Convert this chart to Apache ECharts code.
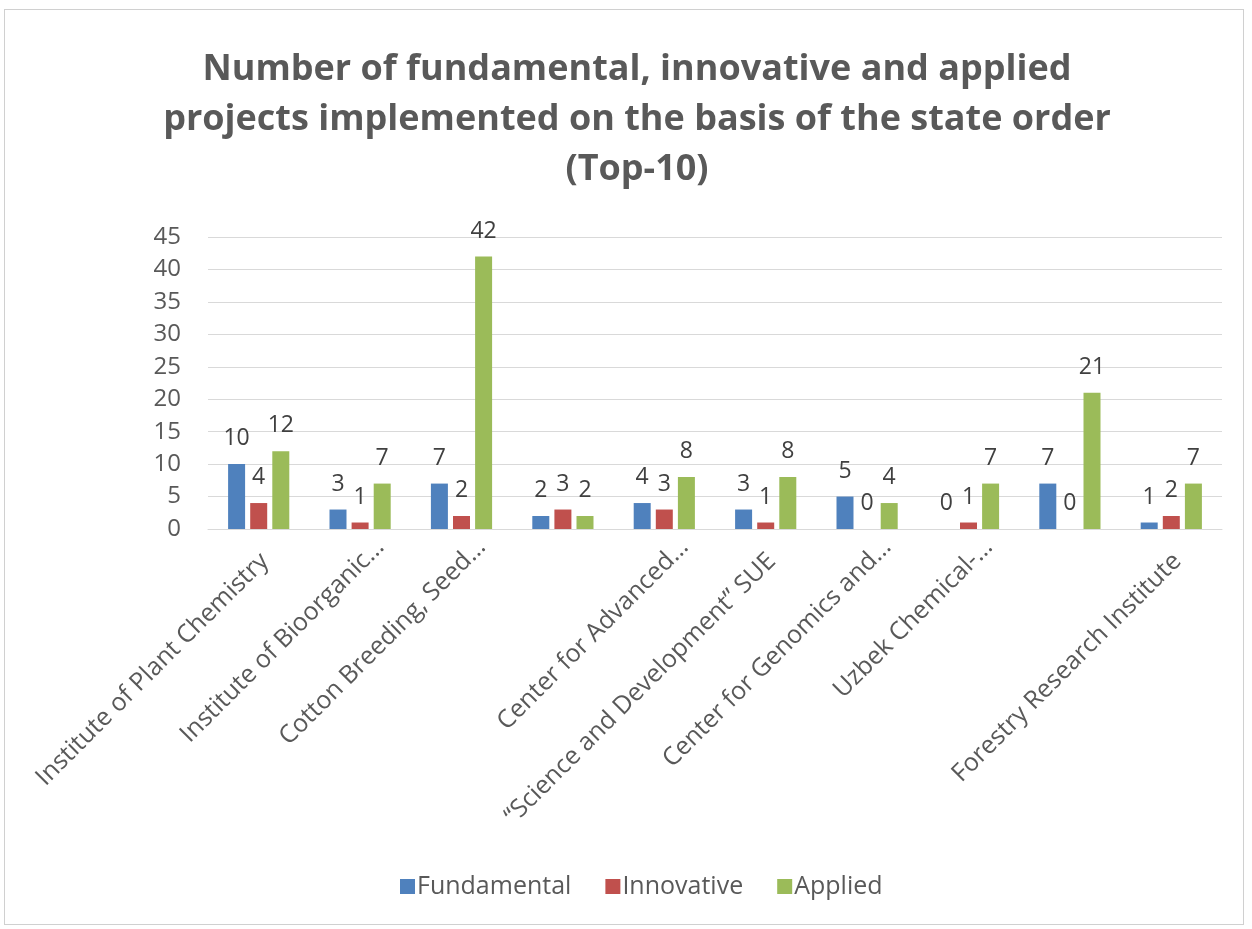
<!DOCTYPE html>
<html>
<head>
<meta charset="utf-8">
<script src="https://cdn.jsdelivr.net/npm/echarts@6/dist/echarts.min.js"></script>
<style>
  html, body { margin: 0; padding: 0; background: #ffffff; }
  #frame { position: absolute; left: 4px; top: 9px; width: 1240px; height: 916px; border: 1px solid #d0d0d0; box-sizing: border-box; }
  #chart { position: absolute; left: 0; top: 0; width: 1252px; height: 929px; }
</style>
</head>
<body>
<div id="frame"></div>
<div id="chart"></div>
<script>
const categories = [
  "Institute of Plant Chemistry",
  "Institute of Bioorganic…",
  "Cotton Breeding, Seed…",
  "",
  "Center for Advanced…",
  "\u201cScience and Development\u201d SUE",
  "Center for Genomics and…",
  "Uzbek Chemical-…",
  "",
  "Forestry Research Institute"
];
const fundamental = [10, 3, 7, 2, 4, 3, 5, 0, 7, 1];
const innovative  = [4, 1, 2, 3, 3, 1, 0, 1, 0, 2];
const applied     = [12, 7, 42, 2, 8, 8, 4, 7, 21, 7];
const seriesNames = ["Fundamental", "Innovative", "Applied"];
const yTicks = { min: 0, max: 45, interval: 5 };

const FONT = "'Open Sans', 'DejaVu Sans', sans-serif";
const chart = echarts.init(document.getElementById('chart'), null, { renderer: 'canvas' });

function barSeries(name, data, color) {
  return {
    name: name,
    type: 'bar',
    data: data,
    barWidth: 17,
    barGap: '30%',
    itemStyle: { color: color },
    label: {
      show: true,
      position: 'top',
      distance: 14,
      color: '#404040',
      fontFamily: FONT,
      fontSize: 23
    }
  };
}

chart.setOption({
  animation: false,
  backgroundColor: 'transparent',
  title: {
    text: "Number of fundamental, innovative and applied\nprojects implemented on the basis of the state order\n(Top-10)",
    left: 632,
    top: 40,
    textAlign: 'center',
    textStyle: {
      fontFamily: FONT,
      fontWeight: 'bold',
      fontSize: 36,
      lineHeight: 50,
      color: '#595959'
    }
  },
  legend: {
    data: seriesNames,
    bottom: 25,
    left: 395,
    itemWidth: 15,
    itemHeight: 15,
    itemGap: 34,
    icon: 'rect',
    textStyle: { fontFamily: FONT, fontSize: 25, color: '#595959', padding: [0, 0, 0, -3] }
  },
  grid: { left: 208, right: 30, top: 237, bottom: 400, containLabel: false },
  xAxis: {
    type: 'category',
    data: categories,
    axisLine: { lineStyle: { color: '#d9d9d9', width: 1 } },
    axisTick: { show: false },
    axisLabel: {
      interval: 0,
      rotate: 45,
      margin: -6,
      padding: [57, 0, 0, 0],
      formatter: function (v) {
        if (v === '') return '';
        return v.endsWith('…') ? '{e|' + v + '}' : '{n|' + v + '}';
      },
      rich: {
        e: { fontFamily: FONT, fontSize: 25, color: '#595959', padding: [0, 0, 0, 0] },
        n: { fontFamily: FONT, fontSize: 25, color: '#595959', padding: [0, 20, 0, 0] }
      }
    }
  },
  yAxis: {
    type: 'value',
    min: yTicks.min,
    max: yTicks.max,
    interval: yTicks.interval,
    axisLine: { show: false },
    axisTick: { show: false },
    splitLine: { lineStyle: { color: '#d9d9d9', width: 1 } },
    axisLabel: { fontFamily: FONT, fontSize: 24, color: '#595959', margin: 27 }
  },
  series: [
    barSeries(seriesNames[0], fundamental, '#4F81BD'),
    barSeries(seriesNames[1], innovative, '#C0504D'),
    barSeries(seriesNames[2], applied, '#9BBB59')
  ]
});
</script>
</body>
</html>
